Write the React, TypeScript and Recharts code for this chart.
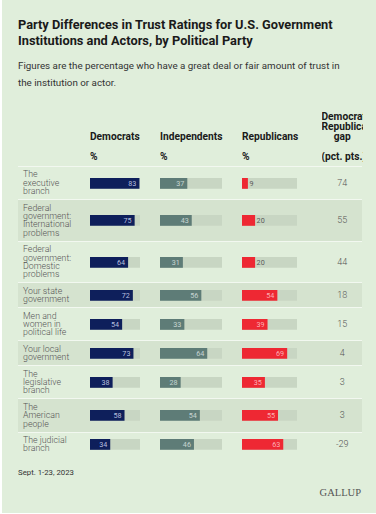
import React from 'react';
import { BarChart, Bar, XAxis, YAxis, LabelList } from 'recharts';

// ---- Data ----
const institutions: string[] = [
  'The\nexecutive\nbranch',
  'Federal\ngovernment:\nInternational\nproblems',
  'Federal\ngovernment:\nDomestic\nproblems',
  'Your state\ngovernment',
  'Men and\nwomen in\npolitical life',
  'Your local\ngovernment',
  'The\nlegislative\nbranch',
  'The\nAmerican\npeople',
  'The judicial\nbranch',
];
const democrats: number[] = [83, 75, 64, 72, 54, 73, 38, 58, 34];
const independents: number[] = [37, 43, 31, 56, 33, 64, 28, 54, 46];
const republicans: number[] = [9, 20, 20, 54, 39, 69, 35, 55, 63];
const gap: number[] = [74, 55, 44, 18, 15, 4, 3, 3, -29];
const columnNames: string[] = ['Democrats', 'Independents', 'Republicans'];
const gapHeader: string[] = ['Democrat–', 'Republican', 'gap'];
const unitLabel = '%';
const gapUnit = '(pct. pts.)';
const title = ['Party Differences in Trust Ratings for U.S. Government', 'Institutions and Actors, by Political Party'];
const subtitle = ['Figures are the percentage who have a great deal or fair amount of trust in', 'the institution or actor.'];
const footnote = 'Sept. 1-23, 2023';
const brand = 'GALLUP';

// ---- Styles ----
const BG = '#e0eedb';
const BAND = '#d5e3cf';
const TRACK = '#c8d6c3';
const SEP = '#f2f8f0';
const COLORS = ['#0e1f5b', '#5e7c77', '#ee2833'];
const LABEL_IN = ['rgba(215,222,245,0.85)', 'rgba(225,235,232,0.8)', 'rgba(255,200,205,0.85)'];
const FONT = 'Roboto, "Noto Sans", sans-serif';
const DOMAIN_MAX = 84;
const COL_X = [90, 160, 242];
const COL_W = [50, 62, 55];
const GAP_X = 321.5;
const GAP_W = 41.5;
const TABLE_X = 18;
const TABLE_W = 344;
const TABLE_TOP = 166;
const LINE_H = 8.4;
const BAR_H = 12;

const baselineTop = (baseline: number, f: number, lh: number) =>
  baseline - ((lh - 1.172 * f) / 2 + 0.928 * f);

const makeLabel = (col: number) => (props: any) => {
  const { x, y, width, height, value } = props;
  const inBar = width >= 18;
  return (
    <text
      x={inBar ? x + width - 3 : x + width + 1.5}
      y={y + height / 2}
      dy="0.36em"
      textAnchor={inBar ? 'end' : 'start'}
      fontSize={7.2}
      fontFamily={FONT}
      fill={inBar ? LABEL_IN[col] : '#5a5a5a'}
    >
      {value}
    </text>
  );
};

function CellBar({ value, col }: { value: number; col: number }) {
  const data = [{ name: 'v', value }];
  return (
    <BarChart
      width={COL_W[col]}
      height={BAR_H}
      data={data}
      layout="vertical"
      margin={{ top: 0, right: 0, bottom: 0, left: 0 }}
      barCategoryGap={0}
    >
      <XAxis type="number" domain={[0, DOMAIN_MAX]} hide />
      <YAxis type="category" dataKey="name" hide />
      <Bar
        dataKey="value"
        fill={COLORS[col]}
        barSize={BAR_H}
        background={{ fill: TRACK }}
        isAnimationActive={false}
      >
        <LabelList dataKey="value" content={makeLabel(col)} />
      </Bar>
    </BarChart>
  );
}

export default function App() {
  const series = [democrats, independents, republicans];
  const heights = institutions.map((l) => l.split('\n').length * LINE_H + 8);
  const tops: number[] = [];
  heights.reduce((acc, h) => {
    tops.push(acc);
    return acc + h;
  }, TABLE_TOP);

  const hdrF = 10.2;
  const hdrLH = 10;
  return (
    <div style={{ position: 'absolute', left: 0, top: 0, width: 376, height: 514, background: '#ffffff', fontFamily: FONT, overflow: 'hidden' }}>
      <div style={{ position: 'absolute', left: 2, top: 0, width: 374, height: 513, background: BG }} />
      {/* Title */}
      <div style={{ position: 'absolute', left: 18, top: baselineTop(29.3, 12.8, 16.4), fontSize: 12.8, lineHeight: '16.4px', fontWeight: 700, color: '#1a1a1a', whiteSpace: 'nowrap' }}>
        {title.map((t, i) => (<div key={i}>{t}</div>))}
      </div>
      {/* Subtitle */}
      <div style={{ position: 'absolute', left: 18, top: baselineTop(70, 9.8, 16.7), fontSize: 9.8, lineHeight: '16.7px', color: '#333', whiteSpace: 'nowrap' }}>
        {subtitle.map((t, i) => (<div key={i}>{t}</div>))}
      </div>
      {/* Column headers */}
      {columnNames.map((n, i) => (
        <div key={n} style={{ position: 'absolute', left: COL_X[i], top: baselineTop(140.9, hdrF, hdrLH), fontSize: hdrF, lineHeight: hdrLH + 'px', fontWeight: 700, color: '#1a1a1a', whiteSpace: 'nowrap' }}>{n}</div>
      ))}
      {columnNames.map((n, i) => (
        <div key={n + 'u'} style={{ position: 'absolute', left: COL_X[i], top: baselineTop(160.5, hdrF, hdrLH), fontSize: hdrF, lineHeight: hdrLH + 'px', fontWeight: 700, color: '#1a1a1a' }}>{unitLabel}</div>
      ))}
      <div style={{ position: 'absolute', left: GAP_X, width: GAP_W, top: baselineTop(120.9, hdrF, hdrLH), fontSize: hdrF, lineHeight: hdrLH + 'px', fontWeight: 700, color: '#1a1a1a', textAlign: 'center', overflow: 'hidden' }}>
        {gapHeader.map((t, i) => (<div key={i} style={{ whiteSpace: 'nowrap' }}>{t}</div>))}
      </div>
      <div style={{ position: 'absolute', left: GAP_X, width: GAP_W, top: baselineTop(160.5, hdrF, hdrLH), fontSize: hdrF, lineHeight: hdrLH + 'px', fontWeight: 700, color: '#1a1a1a', textAlign: 'center', overflow: 'hidden', whiteSpace: 'nowrap' }}>{gapUnit}</div>
      {/* Rows */}
      {institutions.map((label, r) => {
        const h = heights[r];
        const top = tops[r];
        return (
          <div key={r} style={{ position: 'absolute', left: TABLE_X, top, width: TABLE_W, height: h, boxSizing: 'border-box', borderTop: `1.2px solid ${SEP}`, background: r % 2 === 1 ? BAND : 'transparent' }}>
            <div style={{ position: 'absolute', left: 5, top: 0, height: h - 1.2, display: 'flex', alignItems: 'center' }}>
              <div style={{ fontSize: 8.8, lineHeight: LINE_H + 'px', fontWeight: 300, color: '#555', whiteSpace: 'pre' }}>{label}</div>
            </div>
            {series.map((s, c) => (
              <div key={c} style={{ position: 'absolute', left: COL_X[c] - TABLE_X, top: (h - 1.2 - BAR_H) / 2 }}>
                <CellBar value={s[r]} col={c} />
              </div>
            ))}
            <div style={{ position: 'absolute', left: GAP_X - TABLE_X, width: GAP_W, top: 0, height: h - 1.2, display: 'flex', alignItems: 'center', justifyContent: 'center', fontSize: 9, fontWeight: 300, color: '#555' }}>{gap[r]}</div>
          </div>
        );
      })}
      {/* Footer */}
      <div style={{ position: 'absolute', left: 18, top: baselineTop(475.5, 7.8, 10), fontSize: 7.8, lineHeight: '10px', color: '#333', whiteSpace: 'nowrap' }}>{footnote}</div>
      <div style={{ position: 'absolute', right: 376 - 361, top: baselineTop(496.7, 10.5, 12), fontSize: 10.5, lineHeight: '12px', color: '#555', fontFamily: '"Liberation Serif", "DejaVu Serif", serif', whiteSpace: 'nowrap' }}>{brand}</div>
    </div>
  );
}
